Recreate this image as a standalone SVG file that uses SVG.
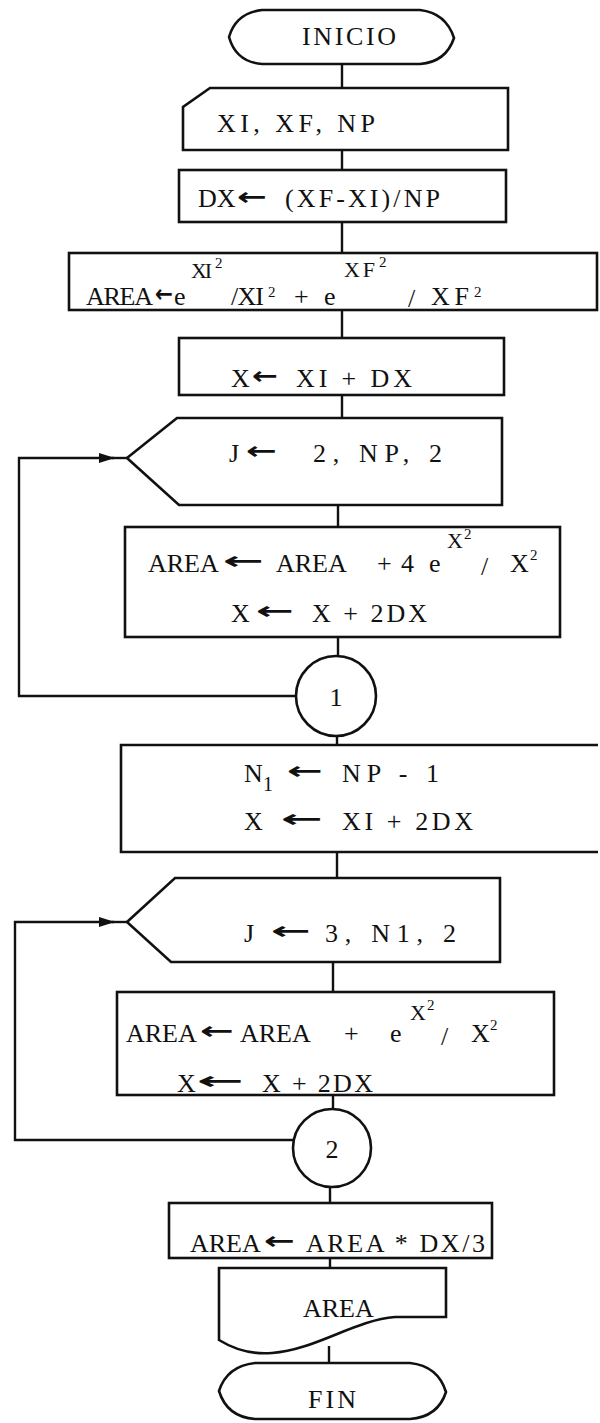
<svg xmlns="http://www.w3.org/2000/svg" width="600" height="1423" viewBox="0 0 600 1423">
<defs>
<style>
.b{fill:#fff;stroke:#111;stroke-width:2.6}
.c{fill:none;stroke:#111;stroke-width:2.4}
text{font-family:"Liberation Serif","DejaVu Serif",serif;font-size:26px;fill:#111}
.sm{font-size:15px}
.sp{font-size:22px}
.ar{font-family:"DejaVu Sans",sans-serif;font-weight:bold;font-size:24px}
</style>
<marker id="ah" markerWidth="16" markerHeight="12" refX="15" refY="6" orient="auto" markerUnits="userSpaceOnUse">
<path d="M0,1 L16,6 L0,11 Z" fill="#111"/>
</marker>
</defs>
<rect width="600" height="1423" fill="#fff"/>

<g id="connectors">
<path class="c" d="M342,65 V88 M342,150 V170 M342,222 V253 M342,310 V338 M342,395 V418"/>
<path class="c" d="M338,505 V527 M338,637 V656 M337,736 V745 M337,852 V878"/>
<path class="c" d="M333,962 V992 M333,1095 V1109 M330,1187 V1203 M330,1258 V1268 M329,1346 V1363"/>
<path class="c" d="M296,696 H19 V458 H114" marker-end="url(#ah)"/>
<path class="c" d="M112,458 H127"/>
<path class="c" d="M293,1140 H15 V922 H114" marker-end="url(#ah)"/>
<path class="c" d="M112,922 H127"/>
</g>

<g id="inicio">
<path class="b" d="M229,37 Q236,13 262,10 H420 Q446,13 454,38 Q446,62 420,64 H262 Q236,62 229,37 Z"/>
<text x="302" y="45" textLength="94" lengthAdjust="spacing">INICIO</text>
</g>

<g id="input">
<path class="b" d="M210,88 H508 V150 H183 V107 Z"/>
<text x="217" y="132" textLength="158" lengthAdjust="spacing">XI, XF, NP</text>
</g>

<g id="dx">
<rect class="b" x="179" y="170" width="327" height="52"/>
<text y="207"><tspan x="198">DX</tspan><tspan class="ar" x="237" y="205" textLength="30" lengthAdjust="spacingAndGlyphs">←</tspan><tspan x="285" y="207" textLength="155" lengthAdjust="spacing">(XF-XI)/NP</tspan></text>
</g>

<g id="area0">
<rect class="b" x="69" y="253" width="528" height="57"/>
<text y="305"><tspan x="86" textLength="67" lengthAdjust="spacing">AREA</tspan><tspan class="ar" x="155" y="302" textLength="18" lengthAdjust="spacingAndGlyphs">←</tspan><tspan x="174" y="305">e</tspan><tspan class="sp" x="191" y="278" textLength="21" lengthAdjust="spacing">XI</tspan><tspan class="sm" x="215" y="268">2</tspan><tspan x="231" y="305" textLength="33" lengthAdjust="spacing">/XI</tspan><tspan class="sm" x="268" y="297">2</tspan><tspan x="294" y="305">+</tspan><tspan x="324" y="305">e</tspan><tspan class="sp" x="344" y="277" textLength="31" lengthAdjust="spacing">XF</tspan><tspan class="sm" x="379" y="267">2</tspan><tspan x="408" y="307">/</tspan><tspan x="431" y="305" textLength="38" lengthAdjust="spacing">XF</tspan><tspan class="sm" x="474" y="297">2</tspan></text>
</g>

<g id="xinit">
<rect class="b" x="179" y="338" width="325" height="57"/>
<text y="387"><tspan x="231">X</tspan><tspan class="ar" x="252" y="384" textLength="26" lengthAdjust="spacingAndGlyphs">←</tspan><tspan x="296" y="387" textLength="116" lengthAdjust="spacing">XI + DX</tspan></text>
</g>

<g id="loop1">
<path class="b" d="M127,458 L177,418 H502 V505 H179 Z"/>
<text y="462"><tspan x="229">J</tspan><tspan class="ar" x="246" y="459" textLength="31" lengthAdjust="spacingAndGlyphs">←</tspan><tspan x="313" y="462" textLength="129" lengthAdjust="spacing">2, NP, 2</tspan></text>
</g>

<g id="body1">
<rect class="b" x="125" y="527" width="435" height="110"/>
<text y="572"><tspan x="148">AREA</tspan><tspan class="ar" x="223" y="569" textLength="41" lengthAdjust="spacingAndGlyphs">←</tspan><tspan x="276" y="572">AREA</tspan><tspan x="377" y="572">+</tspan><tspan x="401" y="572">4</tspan><tspan x="429" y="572">e</tspan><tspan class="sp" x="447" y="548">X</tspan><tspan class="sm" x="464" y="539">2</tspan><tspan x="481" y="575">/</tspan><tspan x="510" y="572">X</tspan><tspan class="sm" x="530" y="560">2</tspan></text>
<text y="622"><tspan x="231">X</tspan><tspan class="ar" x="256" y="619" textLength="38" lengthAdjust="spacingAndGlyphs">←</tspan><tspan x="312" y="622" textLength="115" lengthAdjust="spacing">X + 2DX</tspan></text>
</g>

<g id="conn1">
<circle class="b" cx="336" cy="696" r="40"/>
<text x="336" y="706" text-anchor="middle">1</text>
</g>

<g id="n1">
<path class="b" d="M598,745 H121 V852 H598"/>
<text y="782"><tspan x="244">N</tspan><tspan x="263" y="791" font-size="20">1</tspan><tspan class="ar" x="287" y="779" textLength="36" lengthAdjust="spacingAndGlyphs">←</tspan><tspan x="342" y="782" textLength="97" lengthAdjust="spacing">NP - 1</tspan></text>
<text y="830"><tspan x="244">X</tspan><tspan class="ar" x="281" y="827" textLength="42" lengthAdjust="spacingAndGlyphs">←</tspan><tspan x="342" y="830" textLength="131" lengthAdjust="spacing">XI + 2DX</tspan></text>
</g>

<g id="loop2">
<path class="b" d="M127,922 L175,878 H500 V962 H171 Z"/>
<text y="942"><tspan x="244">J</tspan><tspan class="ar" x="271" y="939" textLength="40" lengthAdjust="spacingAndGlyphs">←</tspan><tspan x="325" y="942" textLength="131" lengthAdjust="spacing">3, N1, 2</tspan></text>
</g>

<g id="body2">
<rect class="b" x="117" y="992" width="437" height="103"/>
<text y="1042"><tspan x="126">AREA</tspan><tspan class="ar" x="200" y="1039" textLength="34" lengthAdjust="spacingAndGlyphs">←</tspan><tspan x="240" y="1042">AREA</tspan><tspan x="344" y="1042">+</tspan><tspan x="390" y="1042">e</tspan><tspan class="sp" x="410" y="1020">X</tspan><tspan class="sm" x="427" y="1010">2</tspan><tspan x="441" y="1045">/</tspan><tspan x="471" y="1042">X</tspan><tspan class="sm" x="490" y="1030">2</tspan></text>
<text y="1092"><tspan x="177">X</tspan><tspan class="ar" x="197" y="1089" textLength="47" lengthAdjust="spacingAndGlyphs">←</tspan><tspan x="262" y="1092" textLength="111" lengthAdjust="spacing">X + 2DX</tspan></text>
</g>

<g id="conn2">
<circle class="b" cx="332" cy="1148" r="39"/>
<text x="332" y="1158" text-anchor="middle">2</text>
</g>

<g id="final">
<rect class="b" x="169" y="1203" width="323" height="55"/>
<text y="1252"><tspan x="190">AREA</tspan><tspan class="ar" x="264" y="1249" textLength="31" lengthAdjust="spacingAndGlyphs">←</tspan><tspan x="306" y="1252" textLength="179" lengthAdjust="spacing">AREA * DX/3</tspan></text>
</g>

<g id="output">
<path class="b" d="M219,1268 H446 V1317 H395 C355,1320 315,1350 272,1353 C248,1355 232,1348 219,1340 Z"/>
<text x="303" y="1317">AREA</text>
</g>

<g id="fin">
<path class="b" d="M219,1391 Q227,1366 255,1363 H410 Q438,1366 446,1392 Q438,1417 410,1419 H255 Q227,1417 219,1391 Z"/>
<text x="308" y="1408" textLength="48" lengthAdjust="spacing">FIN</text>
</g>
</svg>
